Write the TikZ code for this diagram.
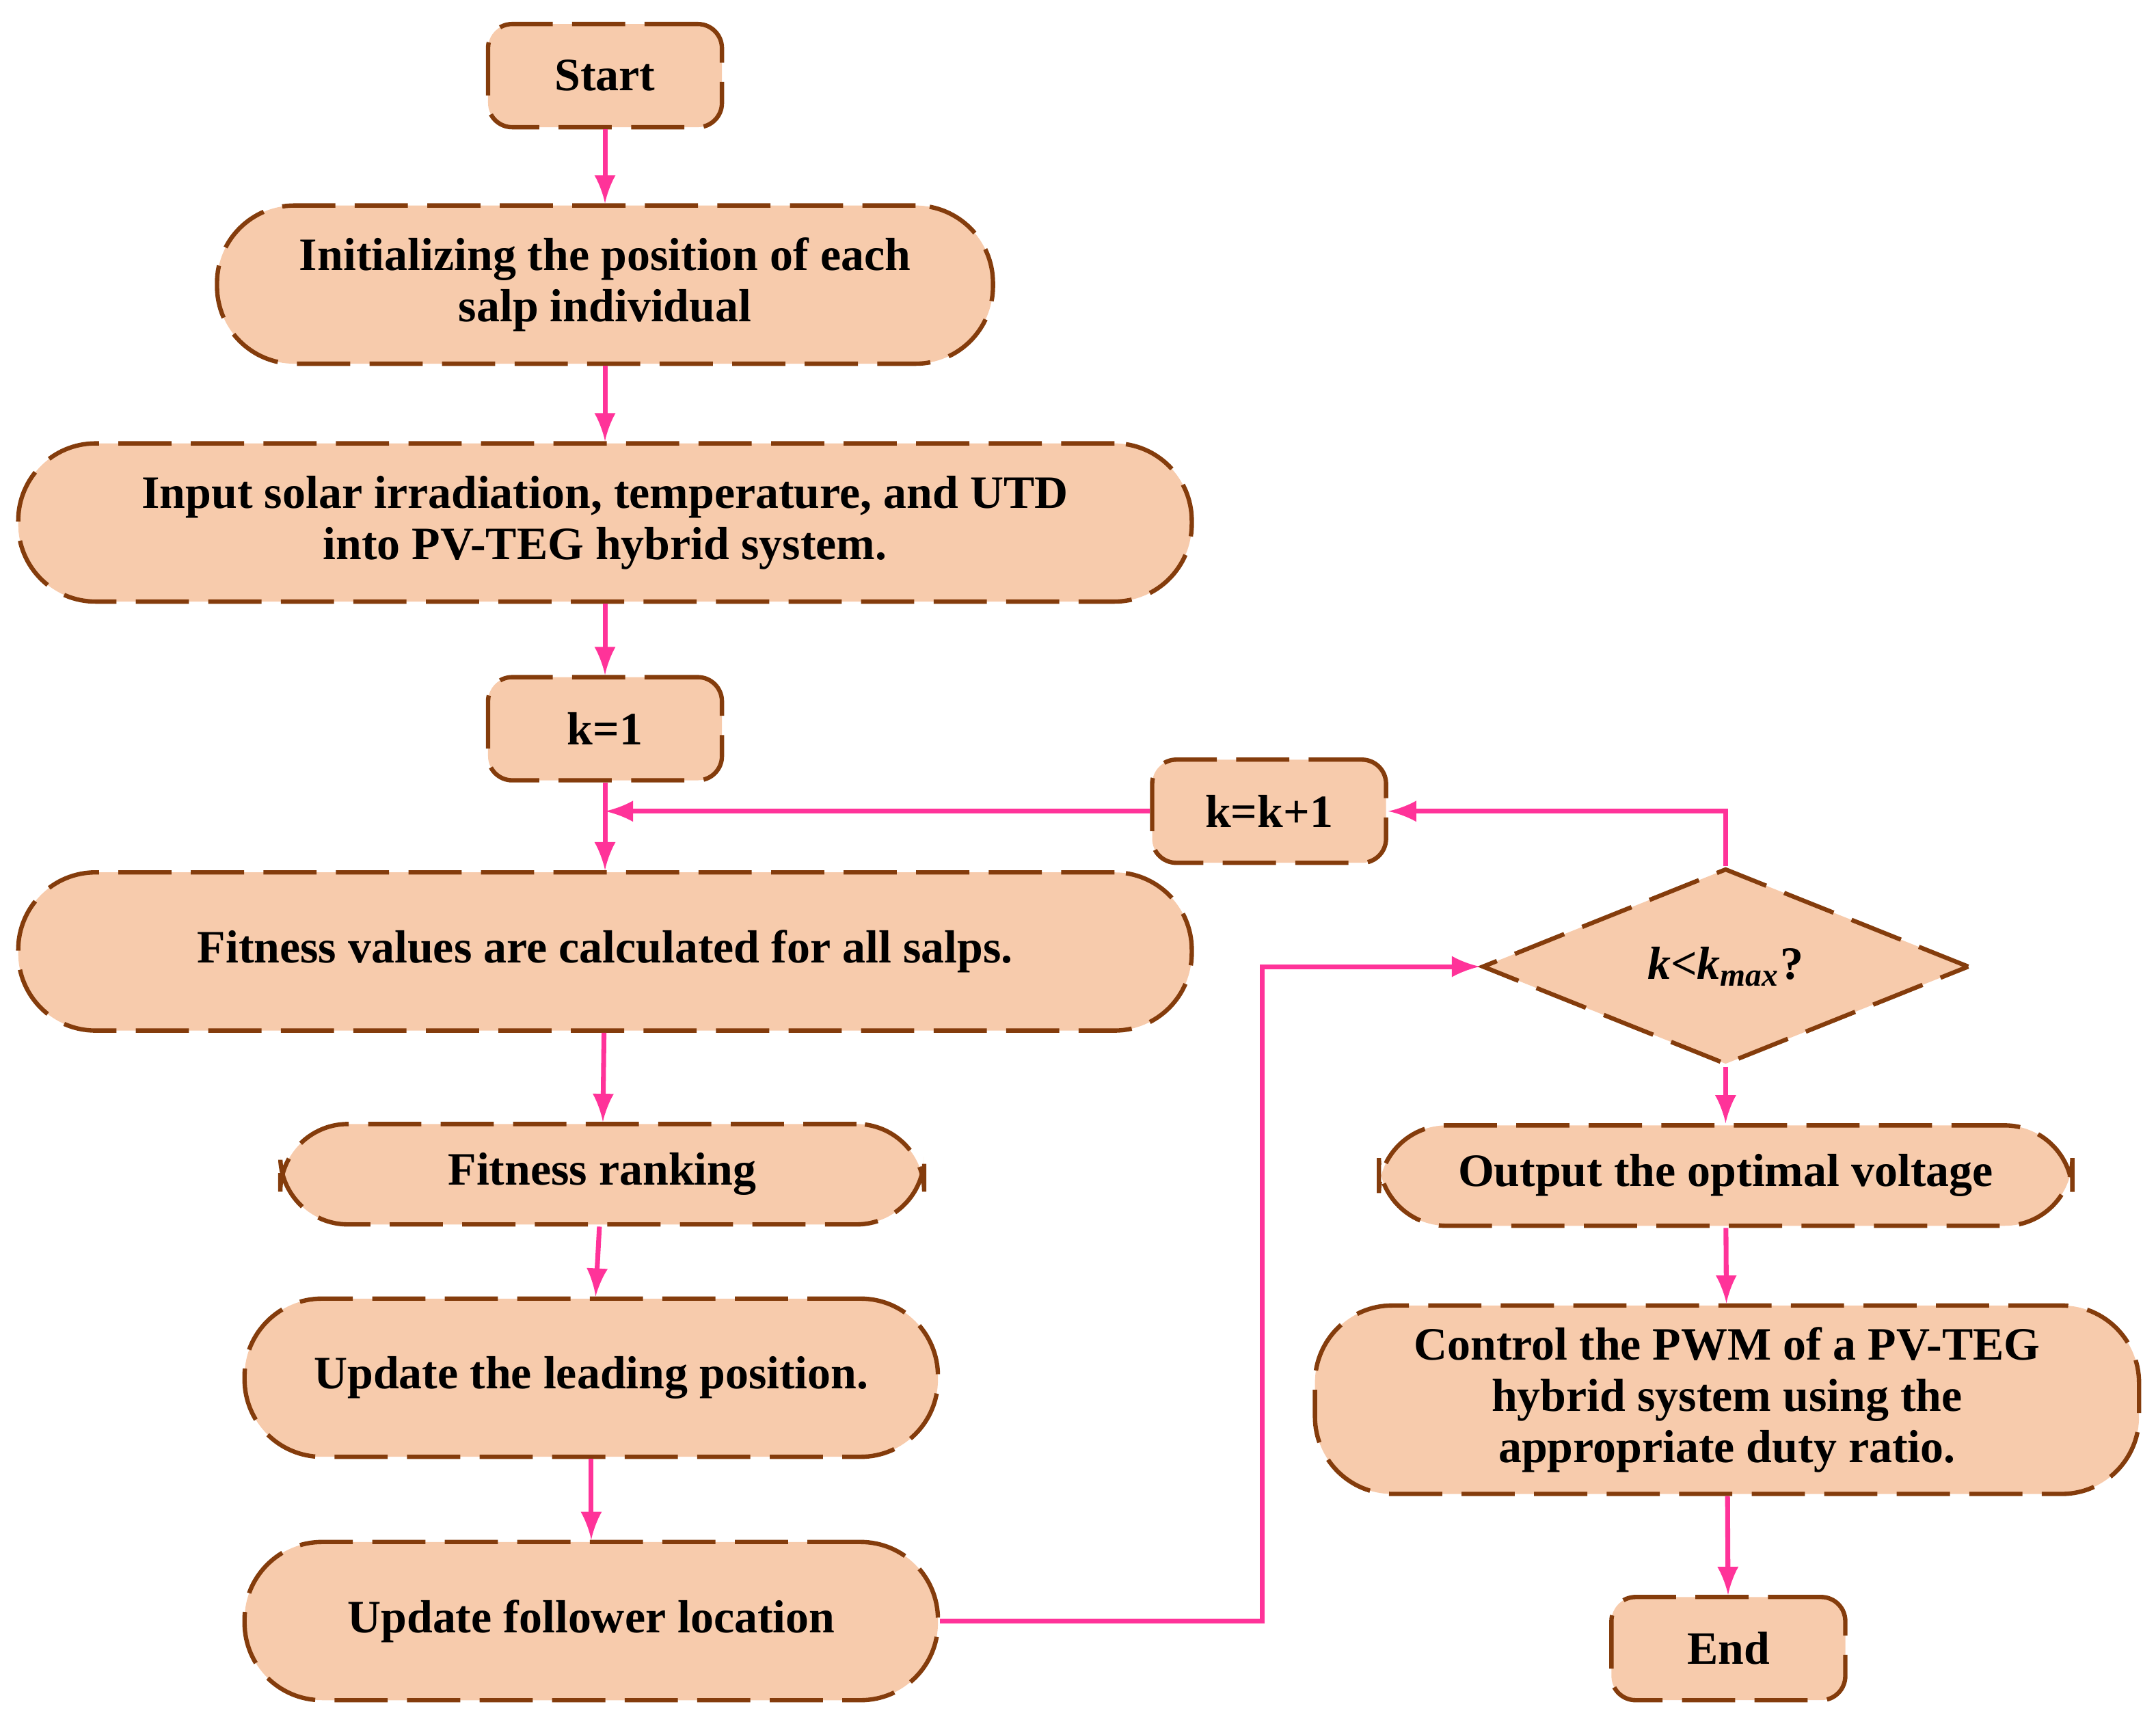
\documentclass[tikz,border=0pt]{standalone}
\usepackage{fontspec}
\setmainfont{Liberation Serif}
\usetikzlibrary{positioning,shapes.geometric,arrows}
\definecolor{boxfill}{HTML}{F7CBAC}
\definecolor{boxline}{HTML}{843C0C}
\definecolor{flowpink}{HTML}{FF3399}
\begin{document}
\begin{tikzpicture}[x=0.01cm,y=-0.01cm,
                    block/.style={draw=boxline,fill=boxfill,line width=0.9pt,dash pattern=on 11pt off 4pt,
                                 align=center,inner sep=0pt,font=\fontsize{9.6}{10.6}\selectfont\bfseries},
                    term/.style={block,rounded corners=5pt,minimum width=1.7cm,minimum height=0.75cm},
                    pill/.style={block,rounded corners=16pt,minimum height=1.15cm},
                    flat/.style={block,rounded corners=14pt,minimum height=0.73cm},
                    test/.style={block,diamond,minimum width=3.54cm,minimum height=1.33cm},
                    link/.style={draw=flowpink,line width=1pt,-latex}
                ]
    \useasboundingbox (0,0) rectangle (1568,1255);
    % left column
    \node[term] (start) at (440,55) {Start};
    \node[pill,minimum width=5.64cm] (init) at (440,207) {Initializing the position of each\\salp individual};
    \node[pill,minimum width=8.53cm] (input) at (440,380) {Input solar irradiation, temperature, and UTD\\into PV-TEG hybrid system.};
    \node[term] (kone) at (440,530) {k=1};
    \node[pill,minimum width=8.53cm] (fitness) at (440,692) {Fitness values are calculated for all salps.};
    \node[flat,minimum width=4.68cm] (rank) at (438,854) {Fitness ranking};
    \node[pill,minimum width=5.04cm] (lead) at (430,1002) {Update the leading position.};
    \node[pill,minimum width=5.04cm] (follow) at (430,1179) {Update follower location};
    % right column
    \node[term] (knext) at (923,590) {k=k+1};
    \node[test] (check) at (1255,703) {\textit{k}<\textit{k}\textsubscript{\textit{max}}?};
    \node[flat,minimum width=5.04cm] (output) at (1255,855) {Output the optimal voltage};
    \node[pill,minimum width=5.99cm,minimum height=1.37cm] (pwm) at (1256,1018) {Control the PWM of a PV-TEG\\hybrid system using the\\appropriate duty ratio.};
    \node[term] (stop) at (1257,1199) {End};
    \coordinate (merge) at (440,590);
    \coordinate (turn) at (918,1179);
    % connectors
    \draw[link] (start) -- (init);
    \draw[link] (init) -- (input);
    \draw[link] (input) -- (kone);
    \draw[link] (kone) -- (fitness);
    \draw[link] (knext) -- (merge);
    \draw[link] (fitness) -- (rank);
    \draw[link] (rank) -- (lead);
    \draw[link] (lead) -- (follow);
    \draw[link] (follow.east) -- (turn) |- (check.west);
    \draw[link] (check.north) |- (knext.east);
    \draw[link] (check) -- (output);
    \draw[link] (output) -- (pwm);
    \draw[link] (pwm) -- (stop);
\end{tikzpicture}
\end{document}
